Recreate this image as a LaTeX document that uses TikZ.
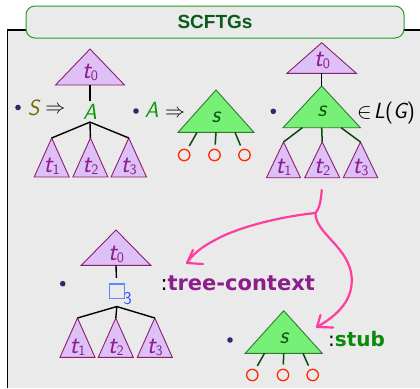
\documentclass[tikz,border=0pt]{standalone}
\usepackage{fix-cm}
\usepackage{fontspec}
\newfontfamily\titlefont{Liberation Sans}
\newfontfamily\labfont{DejaVu Sans}
\usetikzlibrary{calc}

\definecolor{bg}{HTML}{EAEAEA}
\definecolor{lav}{HTML}{DDC0F6}
\definecolor{lavline}{HTML}{8E1E6E}
\definecolor{lavtext}{HTML}{8E1E8E}
\definecolor{grn}{HTML}{77F077}
\definecolor{grnline}{HTML}{2E7A2E}
\definecolor{grntext}{HTML}{0A5A0A}
\definecolor{legc}{HTML}{0A4A0A}
\definecolor{holec}{HTML}{FF2A00}
\definecolor{dotc}{HTML}{2A2A6E}
\definecolor{olivec}{HTML}{6E6A00}
\definecolor{ntgreen}{HTML}{0A9A0A}
\definecolor{boxblue}{HTML}{5A8AFF}
\definecolor{numblue}{HTML}{3355FF}
\definecolor{ctxc}{HTML}{8A1E8A}
\definecolor{stubc}{HTML}{0A8A0A}
\definecolor{penc}{HTML}{FF3CA0}
\definecolor{ttlc}{HTML}{0A5A1A}
\definecolor{ttlline}{HTML}{2A9A2A}

% slanted sans letters and their upright subscripts
\newcommand\letfont{\fontsize{22}{22}\selectfont\sffamily\slshape}
\newcommand\tletfont{\fontsize{26}{26}\selectfont\sffamily\slshape}
\newcommand\sletfont{\fontsize{24}{24}\selectfont\sffamily\slshape}
\newcommand\subfont{\fontsize{14.5}{14.5}\selectfont\sffamily\upshape}
\newcommand\tv[1]{{\tletfont t}\raisebox{-2pt}{\subfont #1}}

% a triangle with named apex (-a), base corners (-l,-r), base middle (-b)
\newcommand\tri[5]{%
  \path[#5] (#2) coordinate (#1-a) -- ++(#3,#4) coordinate (#1-r)
     -- ++(-2*#3,0) coordinate (#1-l) -- cycle;
  \coordinate (#1-b) at ($(#1-l)!.5!(#1-r)$);
  \coordinate (#1-q1) at ($(#1-l)!.25!(#1-r)$);
  \coordinate (#1-q3) at ($(#1-l)!.75!(#1-r)$);}

\tikzset{
  lavtri/.style={fill=lav, draw=lavline, line width=0.9pt, line join=miter},
  grntri/.style={fill=grn, draw=grnline, line width=0.9pt, line join=miter},
  tlab/.style={anchor=base, inner sep=0pt, text=lavtext},
  slab/.style={anchor=base, inner sep=0pt, text=grntext, font=\sletfont},
  conn/.style={draw=black, line width=1.4pt},
  legline/.style={draw=legc, line width=1.5pt, shorten >=4pt},
  holenode/.style={circle, draw=holec, line width=1.3pt, minimum size=11.4pt, inner sep=0pt},
  dotnode/.style={circle, fill=dotc, minimum size=5.6pt, inner sep=0pt},
  arrsym/.style={anchor=base, inner sep=0pt, font=\fontsize{20}{20}\selectfont},
  pen/.style={draw=penc, line width=2.2pt, line cap=round, line join=round},
}

\begin{document}
\begin{tikzpicture}[x=1pt, y=-1pt]
\useasboundingbox (0,0) rectangle (420,388);
\fill[white] (0,0) rectangle (420,388);

% block frame and title
\fill[bg] (7.5,30) rectangle (420,388);
\draw[line width=1.4pt] (7.5,388) -- (7.5,30) -- (420,30);
\node[draw=ttlline, fill=bg, line width=1pt, rounded corners=9pt,
      minimum width=378pt, minimum height=32pt, inner sep=0pt,
      font=\titlefont\bfseries\fontsize{19}{19}\selectfont, text=ttlc]
      (title) at (215,22) {SCFTGs};

% ---- S => t0[A(t1,t2,t3)]
\node[dotnode] (d1) at (18,107.5) {};
\node[anchor=base, inner sep=0pt, text=olivec, font=\letfont] (S1) at (33.5,115) {S};
\node[arrsym] (r1) at (55.3,113.3) {$\Rightarrow$};
\tri{ta}{90,49}{34.5}{36}{lavtri}
\node[tlab] (ta-t) at (90,78.8) {\tv0};
\node[anchor=base, inner sep=2.6pt, text=ntgreen, font=\letfont] (A1) at (90,119.3) {A};
\draw[conn] (ta-b) -- (A1);
\tri{ta1}{51.7,138}{17.5}{39}{lavtri}
\tri{ta2}{90.4,138}{17.5}{39}{lavtri}
\tri{ta3}{128.8,138}{17.7}{39}{lavtri}
\node[tlab] (ta1-t) at (51.7,172.3) {\tv1};
\node[tlab] (ta2-t) at (90.4,172.3) {\tv2};
\node[tlab] (ta3-t) at (128.8,172.3) {\tv3};
\draw[conn, line join=round] (ta1-a) -- (A1.south) -- (ta3-a);
\draw[conn] (A1.south) -- (ta2-a);

% ---- A => s(o,o,o)
\node[dotnode] (d2) at (136,111) {};
\node[anchor=base, inner sep=0pt, text=ntgreen, font=\letfont] (A2) at (151.7,117.7) {A};
\node[arrsym] (r2) at (175,117.4) {$\Rightarrow$};
\tri{gs}{216,90}{38}{42.4}{grntri}
\node[slab] (gs-t) at (216,122.7) {s};
\node[holenode] (h1) at (184.2,155) {};
\node[holenode] (h2) at (214.5,155) {};
\node[holenode] (h3) at (244.5,155) {};
\draw[legline] (gs-q1) -- (h1);
\draw[legline] (gs-b) -- (h2);
\draw[legline] (gs-q3) -- (h3);

% ---- t0[s(t1,t2,t3)] in L(G)
\node[dotnode] (d3) at (273.3,111.3) {};
\tri{tb}{321.7,42.7}{34.7}{30.6}{lavtri}
\node[tlab] (tb-t) at (322,66.7) {\tv0};
\tri{gb}{321.7,86}{38.7}{41.7}{grntri}
\draw[conn] (tb-b) -- (gb-a);
\node[slab] (gb-t) at (322,116.5) {s};
\node[anchor=base west, inner sep=0pt, font=\fontsize{22}{22}\selectfont] (lg) at (357,118)
  {$\in$\hspace{2pt}{\letfont L}{\sffamily\fontsize{22}{22}\selectfont(}{\letfont G}{\sffamily\fontsize{22}{22}\selectfont)}};
\tri{tb1}{283.5,142}{17}{35.7}{lavtri}
\tri{tb2}{322.2,142}{17.5}{35.7}{lavtri}
\tri{tb3}{360.5,142}{17.2}{35.7}{lavtri}
\node[tlab] (tb1-t) at (283.5,173.5) {\tv1};
\node[tlab] (tb2-t) at (322.2,173.5) {\tv2};
\node[tlab] (tb3-t) at (360.5,173.5) {\tv3};
\draw[legline, shorten >=0pt] (gb-q1) -- (tb1-a);
\draw[legline, shorten >=0pt] (gb-b) -- (tb2-a);
\draw[legline, shorten >=0pt] (gb-q3) -- (tb3-a);

% ---- tree-context t0[box3(t1,t2,t3)]
\node[dotnode] (d4) at (62.7,283.7) {};
\tri{tc}{116,230}{34.7}{35.3}{lavtri}
\node[tlab] (tc-t) at (116,260) {\tv0};
\node[draw=boxblue, line width=1.2pt, minimum width=15pt, minimum height=14.3pt,
      inner sep=0pt] (hole) at (116.8,291.2) {};
\node[inner sep=0pt, text=numblue, font=\fontsize{18}{18}\selectfont\sffamily] (hole3) at (127.5,299) {3};
\draw[conn, shorten >=5.5pt] (tc-b) -- (hole);
\tri{tc1}{77.5,318}{17.5}{39.3}{lavtri}
\tri{tc2}{115.8,318}{17.5}{39.3}{lavtri}
\tri{tc3}{154.8,318}{17.5}{39.3}{lavtri}
\node[tlab] (tc1-t) at (77.5,353.5) {\tv1};
\node[tlab] (tc2-t) at (115.8,353.5) {\tv2};
\node[tlab] (tc3-t) at (154.8,353.5) {\tv3};
\draw[conn, line join=round] (tc1-a) -- ([yshift=-7.6pt]hole.south) -- (tc3-a);
\draw[conn] ([yshift=-7.6pt]hole.south) -- (tc2-a);
\node[anchor=base west, inner sep=0pt, font=\fontsize{21}{21}\selectfont] (ctx) at (160.3,290.7)
  {\labfont :\textcolor{ctxc}{\bfseries tree-context}};

% ---- stub s(o,o,o)
\node[dotnode] (d5) at (230,340) {};
\tri{gc}{283.7,310.7}{38.5}{42.6}{grntri}
\node[slab] (gc-t) at (284,343.5) {s};
\node[holenode] (k1) at (252.3,375) {};
\node[holenode] (k2) at (283,375) {};
\node[holenode] (k3) at (312.7,375) {};
\draw[legline] (gc-q1) -- (k1);
\draw[legline] (gc-b) -- (k2);
\draw[legline] (gc-q3) -- (k3);
\node[anchor=base west, inner sep=0pt, font=\fontsize{20}{20}\selectfont] (stub) at (328,346.7)
  {\labfont :\textcolor{stubc}{\bfseries stub}};

% ---- hand-drawn split arrow
\coordinate (src) at (321.7,190);
\coordinate (jn) at (315.5,213);
\coordinate (ctxtip) at (187,263);
\coordinate (ctxb1) at (193,250);
\coordinate (ctxb2) at (203,264);
\coordinate (stubtip) at (317,327);
\coordinate (stubb1) at (320.5,315);
\coordinate (stubb2) at (333,327.5);
\draw[pen] (src) .. controls (321,202) and (319,209) .. (jn);
\draw[pen] (jn) .. controls (285,216) and (240,226) .. (215,240)
               .. controls (200,248) and (192,255) .. (ctxtip);
\draw[pen] (jn) .. controls (315,232) and (345,245) .. (351,272)
               .. controls (356,300) and (336,316) .. (stubtip);
\draw[pen] (ctxb1) -- (ctxtip) -- (ctxb2);
\draw[pen] (stubb1) -- (stubtip) -- (stubb2);
\end{tikzpicture}
\end{document}
